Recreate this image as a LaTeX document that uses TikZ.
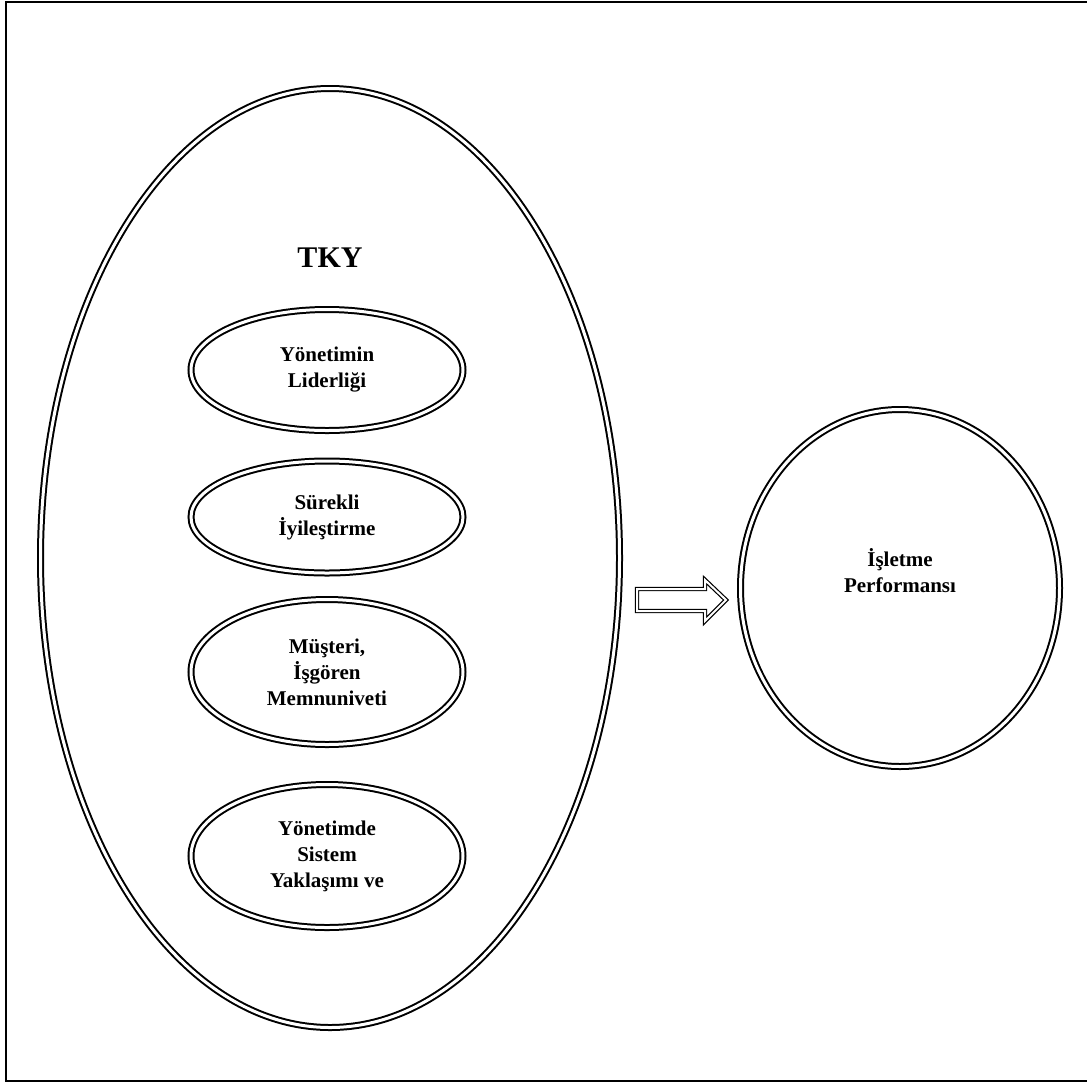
\documentclass[tikz,border=0pt]{standalone}
\usepackage{fontspec}
\setmainfont{Liberation Serif}
\usetikzlibrary{shapes.geometric, positioning}

\tikzset{
  dbl/.style={draw, double, line width=1pt, double distance=1.5pt},
  halka/.style={ellipse, dbl, inner sep=0pt, align=center, minimum width=136pt,
    font=\bfseries\fontsize{10.5pt}{13pt}\selectfont},
}

\begin{document}
\begin{tikzpicture}[x=0.5pt, y=-0.5pt]
                    \useasboundingbox (0, 0) rectangle (1087, 1083);
                    \draw[line width=1pt] (6, 2) rectangle (1110, 1081);

                    \node[ellipse, dbl, minimum width=289.5pt, minimum height=469.5pt] (tky) at (330, 558) {};
                    \node[font=\bfseries\fontsize{15pt}{18pt}\selectfont] (baslik) at (330, 258) {TKY};

                    \node[halka, minimum height=60.5pt] (lider) at (327, 370) {Yönetimin\\Liderliği};
                    \node[halka, minimum height=56pt] (surekli) at (327, 517) {Sürekli\\İyileştirme};
                    \node[halka, minimum height=72.5pt] (musteri) at (327, 672) {Müşteri,\\İşgören\\Memnuniveti};
                    \node[halka, minimum height=71.5pt] (sistem) at (327, 856) {Yönetimde\\Sistem\\Yaklaşımı ve};

                    \node[ellipse, dbl, minimum width=159.5pt, minimum height=178.5pt] (isletme) at (900, 588) {};
                    \node[align=center, font=\bfseries\fontsize{10.5pt}{13pt}\selectfont] (perf) at (900, 571) {İşletme\\Performansı};

                    \draw[line width=0.6pt, double, double distance=1pt]
                    (637, 589) -- (705, 589) -- (705, 580) -- (726, 600) -- (705, 621) -- (705, 611) -- (637, 611) -- cycle;
                \end{tikzpicture}
\end{document}
